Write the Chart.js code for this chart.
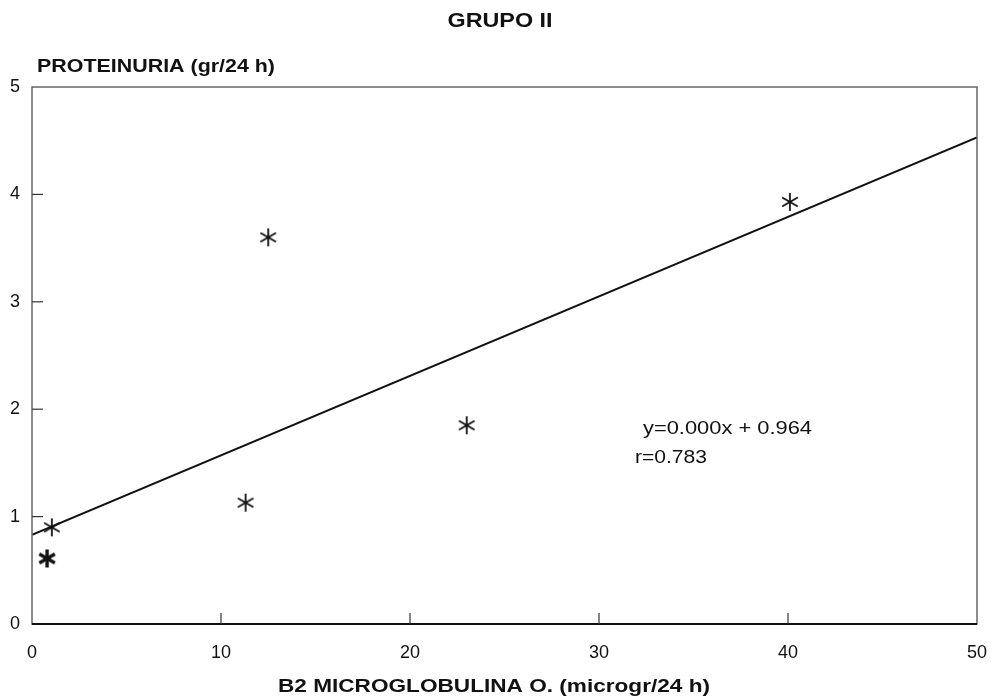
<!DOCTYPE html>
<html>
<head>
<meta charset="utf-8">
<script src="https://cdn.jsdelivr.net/npm/chart.js@4"></script>
<style>
  html, body { margin: 0; padding: 0; background: #fff; }
  #wrap { width: 991px; height: 700px; position: relative; }
</style>
</head>
<body>
<div id="wrap"><canvas id="c" width="991" height="700"></canvas></div>
<script>
// ---- data ----
const chartTitle = "GRUPO II";
const xAxisTitle = "B2 MICROGLOBULINA O. (microgr/24 h)";
const yAxisTitle = "PROTEINURIA (gr/24 h)";
const xTicks = [0, 10, 20, 30, 40, 50];
const yTicks = [0, 1, 2, 3, 4, 5];
const microglobulina = [1.05, 11.3, 12.5, 23.0, 40.1];
const proteinuria    = [0.90, 1.13, 3.60, 1.85, 3.93];
const boldX = [0.8];
const boldY = [0.61];
const fitX = [0, 50];
const fitY = [0.83, 4.53];
const equationText = "y=0.000x + 0.964";
const rText = "r=0.783";

const FONT = "'Liberation Sans', Arial, Helvetica, sans-serif";

function makeAsterisk(size, lw) {
  const c = document.createElement('canvas');
  c.width = size; c.height = size;
  const g = c.getContext('2d');
  g.strokeStyle = '#111';
  g.lineWidth = lw;
  g.lineCap = 'butt';
  const r = size / 2 - 1;
  const cx = size / 2, cy = size / 2;
  [90, 30, 150].forEach(a => {
    const t = a * Math.PI / 180;
    g.beginPath();
    g.moveTo(cx - r * Math.cos(t), cy - r * Math.sin(t));
    g.lineTo(cx + r * Math.cos(t), cy + r * Math.sin(t));
    g.stroke();
  });
  return c;
}
const starImg = makeAsterisk(20, 1.8);
const boldStarImg = makeAsterisk(20, 3.4);

const toXY = (xs, ys) => xs.map((x, i) => ({ x: x, y: ys[i] }));

// draw text stretched horizontally to a target width (reference font is wider)
function wideText(ctx, text, x, y, width, align) {
  const w = ctx.measureText(text).width;
  const k = width / w;
  ctx.save();
  ctx.textAlign = 'left';
  let left = x;
  if (align === 'center') left = x - width / 2;
  ctx.translate(left, y);
  ctx.scale(k, 1);
  ctx.fillText(text, 0, 0);
  ctx.restore();
}

const decor = {
  id: 'decor',
  afterDraw(chart) {
    const ctx = chart.ctx;
    const a = chart.chartArea;
    const xs = chart.scales.x, ys = chart.scales.y;
    ctx.save();
    // frame
    ctx.strokeStyle = '#666';
    ctx.lineWidth = 1.5;
    ctx.strokeRect(a.left, a.top, a.right - a.left, a.bottom - a.top);
    ctx.strokeStyle = '#111';
    ctx.lineWidth = 1.8;
    ctx.beginPath();
    ctx.moveTo(a.left, a.bottom); ctx.lineTo(a.right, a.bottom);
    ctx.stroke();
    // inward ticks
    ctx.strokeStyle = '#333';
    ctx.lineWidth = 1.2;
    xTicks.slice(1, -1).forEach(v => {
      const px = xs.getPixelForValue(v);
      ctx.beginPath(); ctx.moveTo(px, a.bottom); ctx.lineTo(px, a.bottom - 11); ctx.stroke();
    });
    yTicks.slice(1, -1).forEach(v => {
      const py = ys.getPixelForValue(v);
      ctx.beginPath(); ctx.moveTo(a.left, py); ctx.lineTo(a.left + 11, py); ctx.stroke();
    });
    // titles
    ctx.fillStyle = '#111';
    ctx.textBaseline = 'middle';
    ctx.font = "bold 20px " + FONT;
    wideText(ctx, chartTitle, 500, 21, 105, 'center');
    ctx.font = "bold 18px " + FONT;
    wideText(ctx, yAxisTitle, 37, 67, 238, 'left');
    wideText(ctx, xAxisTitle, 494, 687, 432, 'center');
    // annotation
    ctx.font = "18px " + FONT;
    wideText(ctx, equationText, 643, 429, 169, 'left');
    wideText(ctx, rText, 635, 458, 72, 'left');
    ctx.restore();
  }
};

new Chart(document.getElementById('c'), {
  type: 'scatter',
  data: {
    datasets: [
      {
        type: 'line',
        data: toXY(fitX, fitY),
        borderColor: '#111',
        borderWidth: 2,
        pointRadius: 0,
        fill: false,
        order: 2
      },
      {
        data: toXY(microglobulina, proteinuria),
        pointStyle: starImg,
        pointRadius: 10,
        order: 1
      },
      {
        data: toXY(boldX, boldY),
        pointStyle: boldStarImg,
        pointRadius: 10,
        order: 1
      }
    ]
  },
  options: {
    responsive: false,
    animation: false,
    events: [],
    layout: { padding: { top: 87, right: 14, left: 0, bottom: 0 } },
    plugins: { legend: { display: false }, tooltip: { enabled: false }, title: { display: false } },
    scales: {
      x: {
        type: 'linear', min: 0, max: 50,
        afterBuildTicks: s => { s.ticks = xTicks.map(v => ({ value: v })); },
        afterFit: s => { s.height = 76; s.paddingLeft = 0; s.paddingRight = 0; },
        grid: { display: false, drawTicks: false },
        border: { display: false },
        ticks: { padding: 18, color: '#111', font: { size: 18, family: FONT } }
      },
      y: {
        type: 'linear', min: 0, max: 5,
        afterBuildTicks: s => { s.ticks = yTicks.map(v => ({ value: v })); },
        afterFit: s => { s.width = 32; s.paddingTop = 0; s.paddingBottom = 0; },
        grid: { display: false, drawTicks: false },
        border: { display: false },
        ticks: { padding: 12, color: '#111', font: { size: 18, family: FONT } }
      }
    }
  },
  plugins: [decor]
});
</script>
</body>
</html>
